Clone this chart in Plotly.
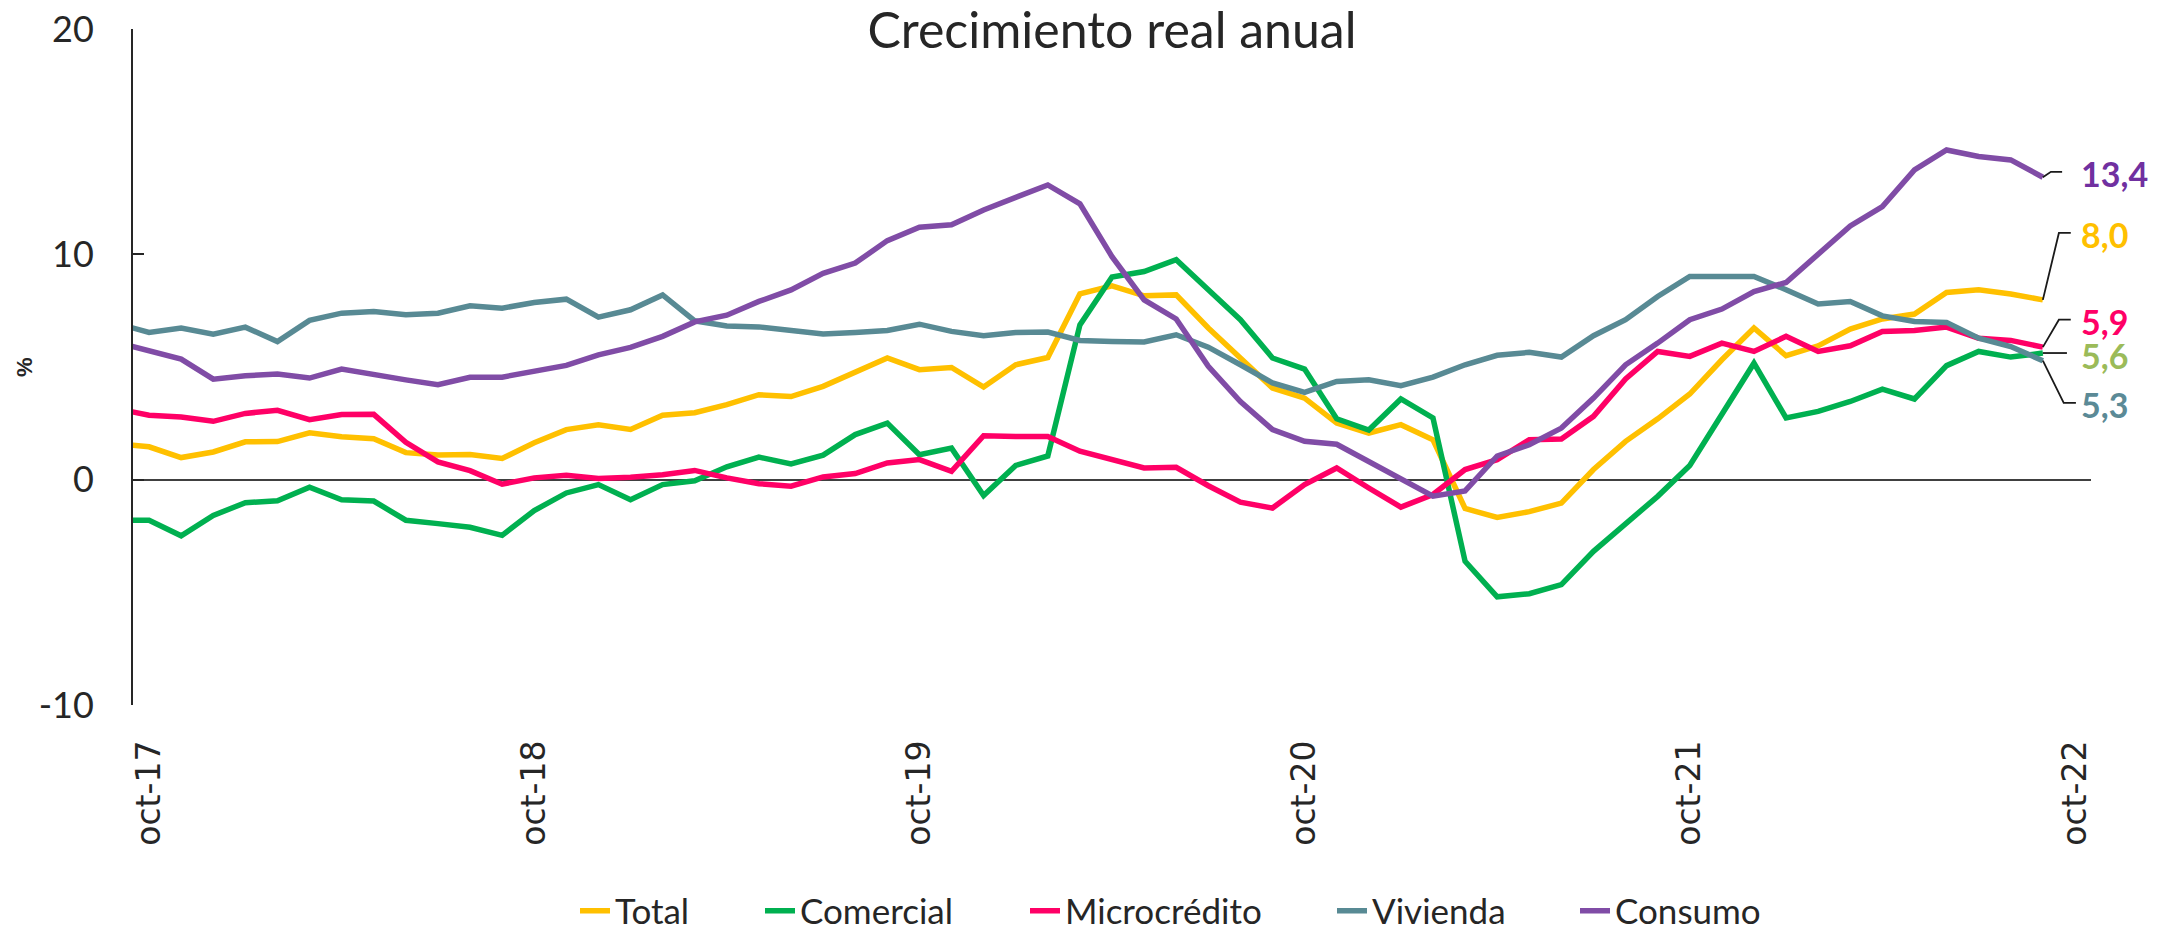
import plotly.graph_objects as go

# ---------------- data ----------------
abbr = ["ene", "feb", "mar", "abr", "may", "jun", "jul", "ago", "sep", "oct", "nov", "dic"]
# monthly categories sep-17 ... oct-22
meses = [f"{abbr[(8 + k) % 12]}-{17 + (8 + k) // 12}" for k in range(62)]
tick_labels = ["oct-17", "oct-18", "oct-19", "oct-20", "oct-21", "oct-22"]
y_ticks = [-10, 0, 10, 20]
y_tick_labels = ["-10", "0", "10", "20"]

# series values, sep-17 ... sep-22 (annual real growth, %)
total = [1.60, 1.46, 0.98, 1.23, 1.68, 1.69, 2.08, 1.90, 1.82, 1.20, 1.09, 1.12, 0.94,
         1.64, 2.22, 2.44, 2.23, 2.86, 2.97, 3.33, 3.77, 3.69, 4.14, 4.80, 5.40, 4.88,
         4.98, 4.11, 5.10, 5.42, 8.25, 8.60, 8.16, 8.20, 6.73, 5.40, 4.07, 3.62, 2.51,
         2.07, 2.44, 1.77, -1.28, -1.68, -1.42, -1.04, 0.45, 1.70, 2.70, 3.80, 5.32,
         6.73, 5.50, 5.94, 6.68, 7.13, 7.35, 8.31, 8.43, 8.24, 7.98]
comercial = [-1.80, -1.80, -2.49, -1.59, -1.02, -0.94, -0.33, -0.89, -0.95, -1.80, -1.95,
             -2.11, -2.47, -1.37, -0.59, -0.22, -0.89, -0.22, -0.05, 0.57, 1.00, 0.70,
             1.09, 2.00, 2.51, 1.11, 1.40, -0.70, 0.63, 1.05, 6.87, 8.99, 9.24, 9.76,
             8.43, 7.10, 5.40, 4.91, 2.70, 2.20, 3.58, 2.74, -3.62, -5.20, -5.06, -4.66,
             -3.18, -1.92, -0.74, 0.63, 2.90, 5.17, 2.74, 3.03, 3.47, 4.02, 3.58, 5.06,
             5.69, 5.44, 5.62]
microcredito = [3.14, 2.86, 2.78, 2.59, 2.94, 3.08, 2.66, 2.89, 2.90, 1.66, 0.79, 0.40,
                -0.20, 0.08, 0.20, 0.05, 0.11, 0.22, 0.41, 0.08, -0.18, -0.29, 0.12, 0.27,
                0.74, 0.89, 0.37, 1.95, 1.92, 1.92, 1.26, 0.89, 0.52, 0.55, -0.27, -1.00,
                -1.26, -0.22, 0.52, -0.37, -1.22, -0.66, 0.45, 0.89, 1.77, 1.80, 2.81,
                4.47, 5.69, 5.47, 6.06, 5.69, 6.36, 5.69, 5.94, 6.58, 6.62, 6.77, 6.28,
                6.18, 5.88]
vivienda = [6.93, 6.53, 6.73, 6.46, 6.77, 6.13, 7.07, 7.39, 7.46, 7.32, 7.39, 7.72, 7.61,
            7.86, 8.01, 7.21, 7.54, 8.20, 7.05, 6.82, 6.78, 6.62, 6.47, 6.53, 6.62, 6.90,
            6.58, 6.39, 6.53, 6.55, 6.18, 6.13, 6.11, 6.43, 5.88, 5.10, 4.29, 3.87, 4.36,
            4.43, 4.17, 4.55, 5.10, 5.52, 5.65, 5.44, 6.39, 7.10, 8.13, 9.02, 8.99, 9.02,
            8.43, 7.80, 7.91, 7.27, 7.02, 6.98, 6.28, 5.91, 5.28]
consumo = [6.09, 5.73, 5.35, 4.46, 4.61, 4.69, 4.51, 4.91, 4.70, 4.43, 4.21, 4.54, 4.55,
           4.80, 5.07, 5.54, 5.87, 6.36, 7.00, 7.30, 7.91, 8.42, 9.16, 9.61, 10.61, 11.20,
           11.31, 11.97, 12.54, 13.08, 12.24, 9.90, 7.98, 7.13, 5.03, 3.47, 2.22, 1.70,
           1.57, 0.81, 0.05, -0.73, -0.50, 1.05, 1.55, 2.29, 3.62, 5.10, 6.06, 7.10, 7.57,
           8.35, 8.75, 9.98, 11.26, 12.12, 13.75, 14.63, 14.34, 14.19, 13.42]

# ---------------- styles ----------------
W, H = 2180, 930
ML, MR, MT, MB = 133, 89, 29, 225
series = [
    ("Total", total, "#FFC000"),
    ("Comercial", comercial, "#00B050"),
    ("Microcrédito", microcredito, "#FF0066"),
    ("Vivienda", vivienda, "#588A94"),
    ("Consumo", consumo, "#804CA6"),
]
# legend text start positions (px from left)
legend_text_px = [619, 804, 1069, 1376, 1619]
# end-label styling: label colour, elbow x-offsets (in months), label level (y units)
end_style = {
    "Consumo": dict(color="#7030A0", ex=(0.25, 0.60), ly=13.66),
    "Total": dict(color="#FFC000", ex=(0.50, 0.87), ly=10.95),
    "Microcrédito": dict(color="#FF0066", ex=(0.50, 0.87), ly=7.10),
    "Comercial": dict(color="#9BBB59", ex=(0.75, 0.75), ly=None),
    "Vivienda": dict(color="#5B8A96", ex=(0.65, 1.03), ly=3.41),
}

plot_w = W - ML - MR
plot_h = H - MT - MB
x = list(range(len(total)))
fig = go.Figure()
legends = {}
for k, (name, vals, col) in enumerate(series):
    lid = f"legend{k + 2}"
    fig.add_trace(go.Scatter(x=x, y=vals, name=name, mode="lines", legend=lid,
                             line=dict(color=col, width=5.5)))
    legends[lid] = dict(orientation="h", xanchor="left", yanchor="middle",
                        x=(legend_text_px[k] - 44 - ML) / plot_w,
                        y=(MT + plot_h - 911) / plot_h,
                        font=dict(family="Lato", size=35, color="#262626"),
                        bgcolor="rgba(0,0,0,0)")

shapes = []
annotations = []
for name, vals, col in series:
    st = end_style[name]
    x0, y0 = x[-1], vals[-1]
    ly = st["ly"] if st["ly"] is not None else y0
    e1, e2 = st["ex"]
    shapes.append(dict(type="path", xref="x", yref="y",
                       path=f"M {x0},{y0} L {x0 + e1},{ly} L {x0 + e2},{ly}",
                       line=dict(color="#1a1a1a", width=1.8)))
    annotations.append(dict(x=x0, y=ly, xref="x", yref="y", xanchor="left",
                            yanchor="middle", xshift=36, yshift=-2, showarrow=False,
                            text=f"<b>{vals[-1]:.1f}</b>".replace(".", ","),
                            font=dict(family="Lato", size=34, color=st["color"])))

annotations.append(dict(x=(24 - ML) / plot_w, y=0.5, xref="paper", yref="paper",
                        xanchor="center", yanchor="middle", text="<b>%</b>",
                        showarrow=False, textangle=-90,
                        font=dict(family="Liberation Sans", size=22, color="#262626")))

fig.update_layout(
    width=W, height=H,
    margin=dict(l=ML, r=MR, t=MT, b=MB, autoexpand=False),
    plot_bgcolor="white", paper_bgcolor="white",
    font=dict(family="Lato", color="#262626"),
    title=dict(text="Crecimiento real anual", x=0.5, xref="paper", xanchor="center",
               y=1 - 30 / H, yref="container", yanchor="middle",
               font=dict(family="Lato", size=50, color="#262626")),
    xaxis=dict(range=[0.5, 61.5], tickvals=[meses.index(t) for t in tick_labels],
               ticktext=tick_labels, tickangle=-90, showgrid=False, zeroline=False,
               showline=False, ticks="", ticklabelstandoff=28,
               tickfont=dict(family="DejaVu Sans", size=33, color="#262626")),
    yaxis=dict(range=[-10, 20], tickvals=y_ticks, ticktext=y_tick_labels,
               showgrid=False, showline=True, linecolor="#262626", linewidth=2,
               ticks="inside", ticklen=11, tickwidth=2, tickcolor="#262626",
               zeroline=True, zerolinecolor="#404040", zerolinewidth=2,
               ticklabelstandoff=30,
               tickfont=dict(family="Lato", size=36, color="#262626")),
    shapes=shapes,
    annotations=annotations,
    **legends,
)

fig.write_html("out.html", config={"displayModeBar": False},
               post_script="document.body.style.margin='0';"
                           "document.body.style.overflow='hidden';")
